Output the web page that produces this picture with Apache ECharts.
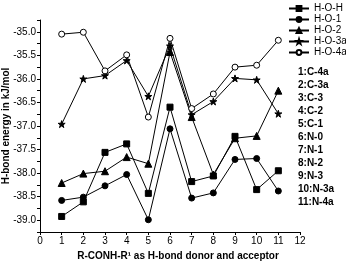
<!DOCTYPE html>
<html>
<head>
<meta charset="utf-8">
<script src="https://cdn.jsdelivr.net/npm/echarts@6/dist/echarts.min.js"></script>
<style>
  html, body { margin: 0; padding: 0; background: #fff; }
  #chart { width: 346px; height: 264px; }
</style>
</head>
<body>
<div id="chart"></div>
<script>
// x positions 1..11 (R-CONH-R1 index)
var xs = [1, 2, 3, 4, 5, 6, 7, 8, 9, 10, 11];

// H-bond energies (kJ/mol)
var hoh  = [-38.92, -38.61, -37.56, -37.38, -38.43, -36.60, -38.18, -38.06, -37.22, -38.35, -37.95];
var ho1  = [-38.58, -38.51, -38.27, -38.03, -38.99, -37.06, -38.53, -38.42, -37.71, -37.69, -38.38];
var ho2  = [-38.21, -38.01, -37.96, -37.66, -37.80, -35.43, -36.81, -38.03, -37.26, -37.21, -36.25];
var ho3a = [-36.96, -36.00, -35.93, -35.61, -36.37, -35.30, -36.76, -36.48, -35.99, -36.02, -36.74];
var ho4a = [-35.05, -35.01, -35.83, -35.49, -36.81, -35.14, -36.63, -36.32, -35.75, -35.71, -35.18];

var seriesNames = ['H-O-H', 'H-O-1', 'H-O-2', 'H-O-3a', 'H-O-4a'];
var keyLabels = ['1:C-4a', '2:C-3a', '3:C-3', '4:C-2', '5:C-1', '6:N-0', '7:N-1', '8:N-2', '9:N-3', '10:N-3a', '11:N-4a'];

var starPath = 'path://M100 0 L122 69 L195 69 L136 112 L159 181 L100 138 L41 181 L64 112 L5 69 L78 69 Z';
var font = 'Liberation Sans';

function pairs(ys) {
  return xs.map(function (x, i) { return [x, ys[i]]; });
}

function mkSeries(name, ys, symbol, size, fill) {
  return {
    name: name,
    type: 'line',
    data: pairs(ys),
    symbol: symbol,
    symbolSize: size,
    showAllSymbol: true,
    lineStyle: { color: '#000', width: 1 },
    itemStyle: { color: fill || '#000', borderColor: '#000', borderWidth: 1 },
    emphasis: { disabled: true },
    animation: false
  };
}

var graphics = keyLabels.map(function (t, i) {
  return {
    type: 'text',
    left: 298,
    top: 67 + i * 13,
    style: { text: t, font: 'bold 10px "' + font + '"', fill: '#000' }
  };
});

var myChart = echarts.init(document.getElementById('chart'));
myChart.setOption({
  animation: false,
  textStyle: { fontFamily: font },
  grid: { left: 40, right: 46, top: 20, bottom: 32, containLabel: false, outerBoundsMode: 'none' },
  legend: {
    orient: 'vertical',
    left: 284,
    top: 1,
    padding: [2, 2, 2, 4],
    itemWidth: 20,
    itemHeight: 6,
    itemGap: 0,
    textStyle: { fontSize: 10, lineHeight: 11, color: '#000', fontFamily: font },
    data: seriesNames
  },
  xAxis: {
    type: 'value',
    min: 0,
    max: 12,
    interval: 1,
    name: 'R-CONH-R\u00b9 as H-bond donor and acceptor',
    nameLocation: 'middle',
    nameGap: 19,
    nameMoveOverlap: false,
    nameTextStyle: { fontSize: 10, fontWeight: 'bold', color: '#000', padding: [0, 0, 0, 16] },
    axisLine: { lineStyle: { color: '#000', width: 1 } },
    axisTick: { length: 3, lineStyle: { color: '#000' } },
    axisLabel: { fontSize: 10, color: '#000', margin: 4 },
    splitLine: { show: false }
  },
  yAxis: {
    type: 'value',
    min: -39.25,
    max: -34.75,
    interval: 0.25,
    name: 'H-bond energy in kJ/mol',
    nameLocation: 'middle',
    nameGap: 29,
    nameMoveOverlap: false,
    nameTextStyle: { fontSize: 10, fontWeight: 'bold', color: '#000' },
    axisLine: { show: true, lineStyle: { color: '#000', width: 1 } },
    axisTick: { show: true, length: 3, lineStyle: { color: '#000' } },
    axisLabel: {
      fontSize: 10,
      color: '#000',
      margin: 4,
      formatter: function (v) {
        var r = Math.round(v * 100) / 100;
        if (Math.abs(r * 2 - Math.round(r * 2)) > 1e-6) return '';
        if (r <= -39.25 || r >= -34.75) return '';
        return r.toFixed(1);
      }
    },
    splitLine: { show: false }
  },
  graphic: graphics,
  series: [
    mkSeries('H-O-H', hoh, 'rect', 6),
    mkSeries('H-O-1', ho1, 'circle', 6),
    mkSeries('H-O-2', ho2, 'triangle', 7),
    mkSeries('H-O-3a', ho3a, starPath, 7),
    mkSeries('H-O-4a', ho4a, 'circle', 6, '#fff')
  ]
});
</script>
</body>
</html>
